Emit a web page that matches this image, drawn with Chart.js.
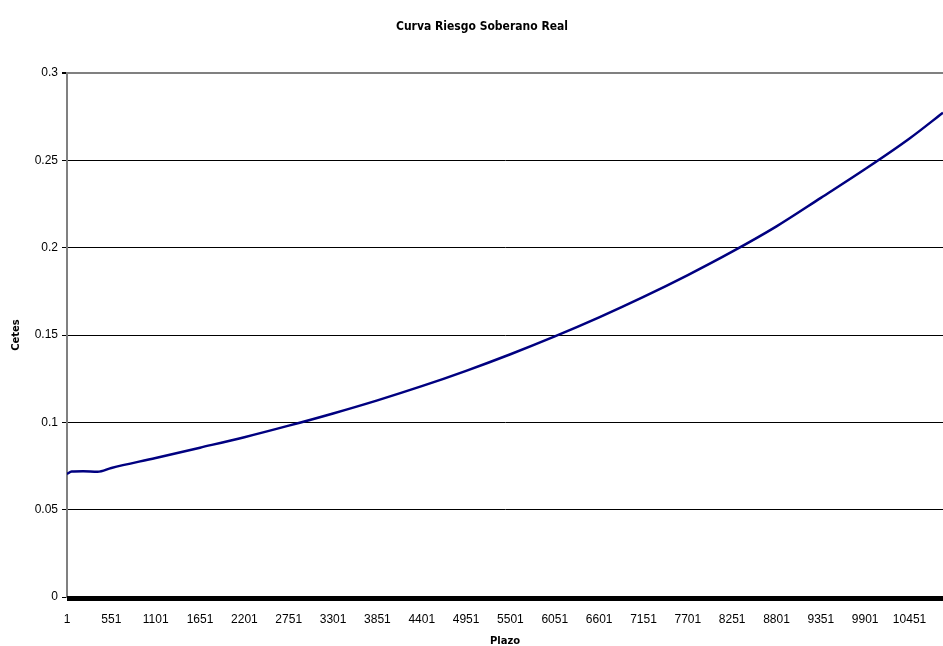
<!DOCTYPE html>
<html>
<head>
<meta charset="utf-8">
<title>Curva Riesgo Soberano Real</title>
<script src="https://cdn.jsdelivr.net/npm/chart.js@4/dist/chart.umd.min.js"></script>
<style>
  html, body { margin: 0; padding: 0; background: #ffffff; }
  #wrap { width: 943px; height: 646px; }
</style>
</head>
<body>
<div id="wrap"><canvas id="curve" width="943" height="646"></canvas></div>
<script>
// Plazo (days) and the real sovereign risk rate at each term
const plazoDays = [1, 60, 200, 380, 551, 1101, 1651, 2201, 2751, 3301, 3851, 4401, 4951,
  5501, 6051, 6601, 7151, 7701, 8251, 8801, 9351, 9901, 10451, 10866];
const cetesRate = [0.0704, 0.0718, 0.0720, 0.0717, 0.0739, 0.0796, 0.0855, 0.0915, 0.0981,
  0.1051, 0.1126, 0.1207, 0.1295, 0.1390, 0.1492, 0.1601, 0.1718, 0.1843, 0.1977,
  0.2122, 0.2285, 0.2450, 0.2625, 0.2773];

// Category labels shown along the term axis
const plazoTicks = [1, 551, 1101, 1651, 2201, 2751, 3301, 3851, 4401, 4951, 5501, 6051,
  6601, 7151, 7701, 8251, 8801, 9351, 9901, 10451];
const cetesTicks = [0, 0.05, 0.1, 0.15, 0.2, 0.25, 0.3];

const chartTitle = 'Curva Riesgo Soberano Real';
const xTitle = 'Plazo';
const yTitle = 'Cetes';

const points = plazoDays.map((d, i) => ({ x: d, y: cetesRate[i] }));

// Heavy black base line under the plot (dense category tick marks)
const baseBar = {
  id: 'baseBar',
  afterDatasetsDraw(chart) {
    const { ctx, chartArea } = chart;
    ctx.save();
    ctx.fillStyle = '#000000';
    ctx.fillRect(chartArea.left, chartArea.bottom - 1, chartArea.right - chartArea.left, 5);
    ctx.restore();
  }
};

// Chart heading
const heading = {
  id: 'heading',
  afterDraw(chart) {
    const { ctx } = chart;
    ctx.save();
    ctx.font = 'bold 12px "DejaVu Sans Condensed", "DejaVu Sans", sans-serif';
    ctx.fillStyle = '#000000';
    ctx.textAlign = 'center';
    ctx.textBaseline = 'middle';
    ctx.fillText(chartTitle, 482, 27);
    ctx.restore();
  }
};

new Chart(document.getElementById('curve'), {
  type: 'line',
  data: {
    datasets: [{
      data: points,
      borderColor: '#000080',
      borderWidth: 2.5,
      pointRadius: 0,
      fill: false,
      cubicInterpolationMode: 'monotone'
    }]
  },
  options: {
    responsive: false,
    animation: false,
    layout: { padding: { top: 73, right: 0, bottom: 0, left: 0 } },
    plugins: {
      legend: { display: false },
      title: { display: false },
      tooltip: { enabled: false }
    },
    scales: {
      x: {
        type: 'linear',
        min: plazoDays[0],
        max: plazoDays[plazoDays.length - 1],
        afterBuildTicks(scale) {
          scale.ticks = plazoTicks.map(v => ({ value: v }));
        },
        afterFit(scale) { scale.height = 49; },
        grid: { display: false, drawTicks: false },
        border: { display: false },
        ticks: {
          autoSkip: false,
          maxRotation: 0,
          padding: 15,
          color: '#000000',
          font: { family: '"Liberation Sans", Arial, sans-serif', size: 12 },
          callback: v => String(v)
        },
        title: {
          display: true,
          text: xTitle,
          color: '#000000',
          font: { family: '"DejaVu Sans", sans-serif', size: 10, weight: 'bold' },
          padding: { top: 0, bottom: -1 }
        }
      },
      y: {
        min: 0,
        max: 0.3,
        afterBuildTicks(scale) {
          scale.ticks = cetesTicks.map(v => ({ value: v }));
        },
        afterFit(scale) { scale.width = 67; },
        grid: {
          color: ctx => (ctx.tick && ctx.tick.value === 0.3) ? '#808080' : '#000000',
          lineWidth: ctx => (ctx.tick && ctx.tick.value === 0.3) ? 2 : 1,
          tickColor: '#000000',
          tickLength: 5
        },
        border: { display: true, color: '#808080', width: 2 },
        ticks: {
          padding: 4,
          color: '#000000',
          font: { family: '"Liberation Sans", Arial, sans-serif', size: 12 },
          callback: v => String(+Number(v).toFixed(2))
        },
        title: {
          display: true,
          text: yTitle,
          color: '#000000',
          font: { family: '"DejaVu Sans", sans-serif', size: 10, weight: 'bold' },
          padding: { top: 10, bottom: 0 }
        }
      }
    }
  },
  plugins: [baseBar, heading]
});
</script>
</body>
</html>
